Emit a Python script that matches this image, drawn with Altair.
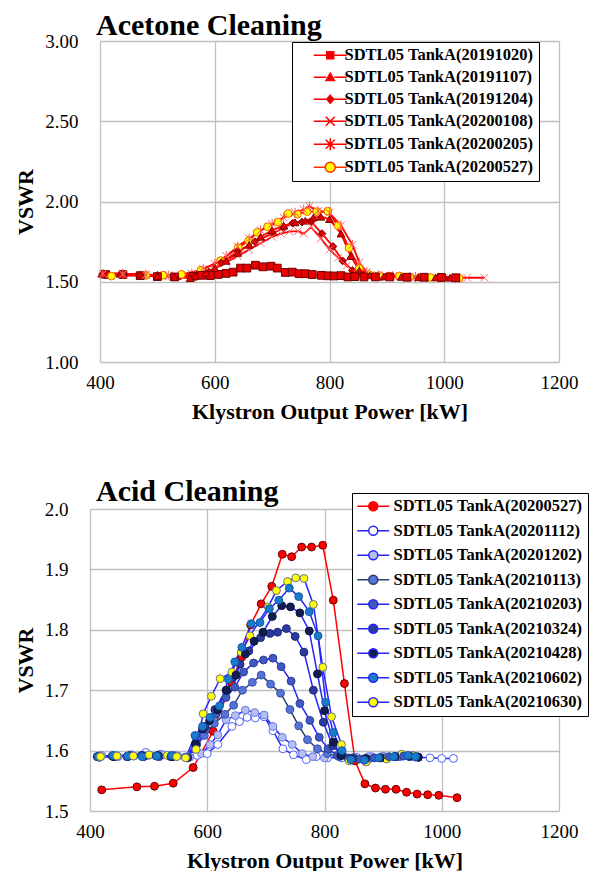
import altair as alt
import pandas as pd

FONT = "Liberation Serif"

# ---------------- Top panel: Acetone Cleaning ----------------
top_names = ["SDTL05 TankA(20191020)", "SDTL05 TankA(20191107)", "SDTL05 TankA(20191204)",
             "SDTL05 TankA(20200108)", "SDTL05 TankA(20200205)", "SDTL05 TankA(20200527)"]

a1_x = [410, 440, 470, 500, 530, 562, 577, 592, 606, 620, 632, 645, 656, 671, 684, 698, 709, 723, 735,
        747, 758, 770, 786, 797, 808, 820, 832, 844, 860, 880, 905, 935, 965, 995, 1020]
a1_y = [1.545, 1.545, 1.538, 1.532, 1.530, 1.534, 1.540, 1.538, 1.546, 1.552, 1.560, 1.585, 1.585, 1.603,
        1.593, 1.597, 1.585, 1.558, 1.560, 1.550, 1.550, 1.545, 1.540, 1.537, 1.536, 1.538, 1.530, 1.532,
        1.530, 1.530, 1.530, 1.528, 1.528, 1.527, 1.525]

a2_x = [403, 435, 470, 500, 530, 557, 566, 585, 600, 620, 640, 660, 680, 700, 720, 740, 758, 772, 785,
        800, 820, 837, 852, 870, 895, 925, 955, 985, 1010]
a2_y = [1.550, 1.550, 1.545, 1.535, 1.530, 1.522, 1.535, 1.555, 1.585, 1.630, 1.680, 1.730, 1.780, 1.820,
        1.850, 1.870, 1.880, 1.900, 1.905, 1.890, 1.800, 1.660, 1.570, 1.540, 1.533, 1.530, 1.528, 1.527, 1.525]

a3_x = [405, 440, 500, 540, 570, 590, 612, 640, 670, 700, 720, 736, 752, 768, 787, 806, 823, 840, 858,
        890, 930, 970, 1000]
a3_y = [1.550, 1.550, 1.540, 1.535, 1.545, 1.560, 1.620, 1.690, 1.750, 1.800, 1.835, 1.865, 1.872, 1.875,
        1.800, 1.720, 1.630, 1.570, 1.540, 1.530, 1.530, 1.525, 1.525]

a4_x = [405, 440, 480, 520, 560, 580, 600, 620, 640, 660, 680, 700, 715, 730, 745, 755, 768, 785, 800,
        815, 830, 848, 870, 900, 950, 1000, 1040, 1070]
a4_y = [1.550, 1.545, 1.540, 1.535, 1.540, 1.560, 1.580, 1.620, 1.660, 1.700, 1.740, 1.780, 1.800, 1.812,
        1.815, 1.800, 1.840, 1.770, 1.700, 1.650, 1.600, 1.550, 1.535, 1.530, 1.530, 1.525, 1.525, 1.525]

a5_x = [405, 440, 480, 520, 560, 580, 600, 620, 640, 660, 680, 700, 720, 740, 755, 765, 780, 800, 820,
        840, 852, 865, 885, 910, 950, 990, 1020]
a5_y = [1.550, 1.550, 1.545, 1.540, 1.550, 1.580, 1.610, 1.660, 1.720, 1.770, 1.820, 1.860, 1.900, 1.930,
        1.950, 1.970, 1.940, 1.930, 1.850, 1.730, 1.620, 1.560, 1.540, 1.535, 1.530, 1.525, 1.520]

# 20200527 (shared by both panels)
r_x = [420, 480, 510, 542, 576, 610, 641, 659, 674, 692, 710, 728, 744, 761, 778, 797, 815, 834, 852,
       869, 887, 904, 922, 940, 958, 976, 995, 1026]
r_y = [1.535, 1.540, 1.541, 1.546, 1.572, 1.632, 1.713, 1.755, 1.808, 1.843, 1.872, 1.925, 1.921, 1.937,
       1.937, 1.940, 1.849, 1.711, 1.583, 1.545, 1.538, 1.536, 1.536, 1.531, 1.528, 1.527, 1.526, 1.522]

# ---------------- Bottom panel: Acid Cleaning ----------------
bot_names = ["SDTL05 TankA(20200527)", "SDTL05 TankA(20201112)", "SDTL05 TankA(20201202)",
             "SDTL05 TankA(20210113)", "SDTL05 TankA(20210203)", "SDTL05 TankA(20210324)",
             "SDTL05 TankA(20210428)", "SDTL05 TankA(20210602)", "SDTL05 TankA(20210630)"]

b1_x = [418, 445, 470, 495, 520, 545, 567, 583, 600, 618, 642, 655, 668, 682, 697, 712, 729, 747, 769,
        786, 805, 830, 855, 880, 905, 930, 955, 980, 1000, 1020]
b1_y = [1.590, 1.592, 1.593, 1.597, 1.594, 1.592, 1.590, 1.592, 1.595, 1.610, 1.640, 1.648, 1.655, 1.654,
        1.656, 1.633, 1.603, 1.593, 1.585, 1.590, 1.588, 1.588, 1.589, 1.590, 1.588, 1.590, 1.589, 1.588,
        1.587, 1.587]

b2_x = [420, 448, 475, 500, 525, 550, 570, 590, 605, 618, 632, 648, 665, 681, 697, 712, 728, 745, 762,
        780, 800, 825, 850, 875, 900, 925, 950]
b2_y = [1.592, 1.590, 1.591, 1.592, 1.593, 1.591, 1.589, 1.595, 1.610, 1.626, 1.651, 1.658, 1.667, 1.663,
        1.659, 1.640, 1.622, 1.610, 1.595, 1.590, 1.588, 1.590, 1.589, 1.590, 1.591, 1.590, 1.592]

b3_x = [412, 440, 465, 490, 515, 540, 565, 580, 595, 612, 630, 645, 660, 677, 692, 708, 725, 741, 756,
        771, 788, 805, 825, 850, 875, 900, 925, 950]
b3_y = [1.590, 1.591, 1.590, 1.592, 1.591, 1.590, 1.588, 1.605, 1.625, 1.645, 1.660, 1.675, 1.700, 1.713,
        1.725, 1.710, 1.695, 1.668, 1.641, 1.618, 1.603, 1.595, 1.590, 1.588, 1.586, 1.588, 1.590, 1.591]

b4_x = [415, 442, 468, 493, 518, 543, 567, 582, 598, 615, 632, 647, 662, 679, 696, 712, 726, 743, 758,
        775, 791, 806, 822, 840, 860, 885, 910, 935, 958]
b4_y = [1.591, 1.590, 1.592, 1.591, 1.590, 1.591, 1.589, 1.610, 1.635, 1.660, 1.688, 1.705, 1.730, 1.745,
        1.750, 1.753, 1.739, 1.715, 1.678, 1.650, 1.622, 1.603, 1.592, 1.588, 1.586, 1.588, 1.590, 1.591,
        1.590]

b5_x = [413, 438, 463, 488, 513, 538, 563, 580, 596, 613, 632, 644, 656, 671, 691, 707, 720, 735, 750,
        765, 781, 798, 814, 830, 848, 870, 895, 920, 945, 960]
b5_y = [1.590, 1.591, 1.590, 1.592, 1.591, 1.590, 1.589, 1.612, 1.640, 1.668, 1.700, 1.721, 1.743, 1.765,
        1.787, 1.794, 1.796, 1.802, 1.789, 1.763, 1.700, 1.647, 1.608, 1.592, 1.587, 1.586, 1.588, 1.590,
        1.590, 1.589]

b6_x = [416, 440, 466, 491, 516, 541, 566, 580, 592, 604, 618, 633, 649, 665, 680, 695, 711, 727, 742,
        758, 774, 788, 800, 815, 828, 845, 870, 895, 920, 945, 960]
b6_y = [1.589, 1.590, 1.591, 1.590, 1.592, 1.590, 1.588, 1.610, 1.636, 1.650, 1.668, 1.700, 1.725, 1.760,
        1.781, 1.796, 1.822, 1.840, 1.838, 1.828, 1.798, 1.727, 1.666, 1.614, 1.592, 1.586, 1.587, 1.588,
        1.590, 1.591, 1.589]

b7_x = [414, 439, 464, 489, 514, 539, 564, 579, 592, 605, 621, 636, 647, 659, 675, 690, 706, 722, 740,
        756, 774, 789, 802, 815, 830, 845, 868, 892, 918, 942, 955]
b7_y = [1.590, 1.592, 1.591, 1.590, 1.591, 1.592, 1.589, 1.625, 1.640, 1.655, 1.674, 1.718, 1.747, 1.771,
        1.810, 1.812, 1.835, 1.849, 1.869, 1.855, 1.830, 1.790, 1.680, 1.630, 1.600, 1.585, 1.584, 1.588,
        1.590, 1.592, 1.590]

b8_x = [418, 446, 474, 501, 532, 548, 563, 581, 593, 607, 622, 642, 658, 673, 704, 718, 737, 751, 765,
        781, 797, 812, 829, 842, 871, 906, 932, 950]
b8_y = [1.590, 1.591, 1.591, 1.593, 1.592, 1.590, 1.588, 1.602, 1.661, 1.690, 1.719, 1.730, 1.763, 1.790,
        1.838, 1.865, 1.880, 1.886, 1.885, 1.842, 1.738, 1.656, 1.610, 1.583, 1.581, 1.586, 1.594, 1.592]

x_ticks = [400, 600, 800, 1000, 1200]
top_y_ticks = [1.0, 1.5, 2.0, 2.5, 3.0]
bot_y_ticks = [1.5, 1.6, 1.7, 1.8, 1.9, 2.0]

# ---------------- styles ----------------
top_line = ["#ff0000"] * 6
top_fill = ["#e80000", "#e80000", "#d80000", "transparent", "transparent", "#ffff00"]
top_mstroke = ["#700000", "#800000", "#800000", "#ff7070", "#ff5a5a", "#ff5a00"]
top_shape = ["square", "triangle-up", "diamond",
             "M-1,-1L1,1M-1,1L1,-1",
             "M-1,-1L1,1M-1,1L1,-1M0,-1.3V1.3",
             "circle"]
top_size = [60, 60, 50, 80, 110, 135]
TL = "M-4.9,0"  # left margin of the legend sample
top_leg = [TL + "M-3.3,0H-0.7M0.7,0H3.3M-0.7,-0.7H0.7V0.7H-0.7Z",
           TL + "M-3.3,0H-0.8M0.8,0H3.3M0,-0.85L0.85,0.65H-0.85Z",
           TL + "M-3.3,0H-0.7M0.7,0H3.3M0,-0.8L0.7,0L0,0.8L-0.7,0Z",
           TL + "M-3.3,0H3.3M-0.9,-0.9L0.9,0.9M-0.9,0.9L0.9,-0.9",
           TL + "M-3.3,0H3.3M-0.9,-0.9L0.9,0.9M-0.9,0.9L0.9,-0.9M0,-1.2V1.2",
           TL + "M-3.3,0H-1M1,0H3.3M1,0A1,1 0 1,1 -1,0A1,1 0 1,1 1,0Z"]
top_leg_stroke = ["#ff0000", "#ff0000", "#ff0000", "#ff0000", "#ff0000", "#ff3000"]

BLUE = "#2424ff"
bot_line = ["#ff0000", BLUE, BLUE, "#2f3f6f", BLUE, BLUE, BLUE, BLUE, BLUE]
bot_fill = ["#ff0000", "#ffffff", "#b4c0f2", "#5573d8", "#3f59c2", "#2a3a9e", "#101e52", "#1a7acc", "#ffff00"]
bot_mstroke = ["#6b0000", "#5060ff", "#6a7ae6", "#3a4ea8", "#2a3e98", "#1c2878", "#0a1436", "#1458a8", "#6a7090"]
circ = "M-3.4,0M-3.2,0H-0.9M0.9,0H3.2M0.9,0A0.9,0.9 0 1,1 -0.9,0A0.9,0.9 0 1,1 0.9,0Z"
bot_leg = [circ] * 9


def long_df(names, xs, ys):
    rows = []
    for n, xa, ya in zip(names, xs, ys):
        for i, (a, b) in enumerate(zip(xa, ya)):
            rows.append({"s": n, "x": a, "y": b, "i": i})
    return pd.DataFrame(rows)


top_df = long_df(top_names, [a1_x, a2_x, a3_x, a4_x, a5_x, r_x], [a1_y, a2_y, a3_y, a4_y, a5_y, r_y])
bot_df = long_df(bot_names, [r_x, b1_x, b2_x, b3_x, b4_x, b5_x, b6_x, b7_x, b8_x],
                 [r_y, b1_y, b2_y, b3_y, b4_y, b5_y, b6_y, b7_y, b8_y])


def panel(df, names, line_c, fill_c, mstroke_c, shapes, sizes, leg_paths, leg_stroke, title,
          ydomain, yticks, yfmt, height, xrange, yoffset, legx, legy, rowpad, symoff, laboff,
          line_w, title_offset):
    xscale = alt.Scale(domain=[400, 1200], range=xrange) if xrange else alt.Scale(domain=[400, 1200])
    X = alt.X("x:Q", scale=xscale,
              axis=alt.Axis(values=x_ticks, title="Klystron Output Power [kW]", format="d",
                            labelFlush=False, labelPadding=11, titlePadding=9))
    Y = alt.Y("y:Q", scale=alt.Scale(domain=ydomain),
              axis=alt.Axis(values=yticks, format=yfmt, title="VSWR", offset=yoffset,
                            labelPadding=22, titlePadding=7))
    base = alt.Chart(df)
    lines = base.mark_line(strokeWidth=line_w).encode(
        x=X, y=Y,
        color=alt.Color("s:N", scale=alt.Scale(domain=names, range=line_c), legend=None),
        order="i:Q")
    pts = base.mark_point(filled=True, opacity=1, strokeWidth=1).encode(
        x=X, y=Y,
        shape=alt.Shape("s:N", scale=alt.Scale(domain=names, range=shapes), legend=None),
        fill=alt.Fill("s:N", scale=alt.Scale(domain=names, range=fill_c), legend=None),
        stroke=alt.Stroke("s:N", scale=alt.Scale(domain=names, range=mstroke_c), legend=None),
        size=alt.Size("s:N", scale=alt.Scale(domain=names, range=sizes), legend=None),
        order="i:Q")
    L = alt.Legend(title=None, orient="none", legendX=legx, legendY=legy, direction="vertical",
                   fillColor="white", strokeColor="black", padding=5,
                   labelFont=FONT, labelFontWeight="bold", labelFontSize=16.5, labelColor="black",
                   labelLimit=0, symbolSize=100, symbolStrokeWidth=1.5, symbolOffset=symoff,
                   labelOffset=laboff, rowPadding=rowpad, symbolOpacity=1)
    leg = base.mark_point(filled=True, opacity=0, strokeWidth=1.5).encode(
        x=X, y=Y,
        shape=alt.Shape("s:N", scale=alt.Scale(domain=names, range=leg_paths), legend=L),
        fill=alt.Fill("s:N", scale=alt.Scale(domain=names, range=fill_c), legend=L),
        stroke=alt.Stroke("s:N", scale=alt.Scale(domain=names, range=leg_stroke), legend=L))
    ch = alt.layer(lines, pts, leg).resolve_scale(
        shape="independent", fill="independent", stroke="independent").properties(
        width=459, height=height,
        title=alt.TitleParams(title, anchor="start", frame="group", font=FONT, fontSize=30,
                              fontWeight="bold", color="black", offset=title_offset, dx=-4))
    return ch


top = panel(top_df, top_names, top_line, top_fill, top_mstroke, top_shape, top_size, top_leg,
            top_leg_stroke, "Acetone Cleaning", [1.0, 3.0], top_y_ticks, ".2f", 321, None, 0,
            192, 1, 5, 25, 6, 1.8, -9)
bot = panel(bot_df, bot_names, bot_line, bot_fill, bot_mstroke, ["circle"] * 9, [62] * 9, bot_leg,
            bot_line, "Acid Cleaning", [1.5, 2.0], bot_y_ticks, ".1f", 302, [-10, 459], 10,
            252, -16, 7.5, 8, 12, 1.5, -14)

chart = alt.vconcat(top, bot, spacing=54).resolve_scale(
    color="independent", shape="independent", fill="independent", stroke="independent",
    size="independent").properties(
    padding={"left": 6, "top": 3, "right": 0, "bottom": 0}
).configure_view(stroke=None).configure_axis(
    labelFont=FONT, labelFontSize=19, labelColor="black", titleFont=FONT, titleFontSize=22,
    titleFontWeight="bold", titleColor="black", grid=True, gridColor="#c0c0c0", gridWidth=1.3,
    domain=False, ticks=False)

chart.save("out.html", embed_options={"renderer": "svg", "actions": False})
